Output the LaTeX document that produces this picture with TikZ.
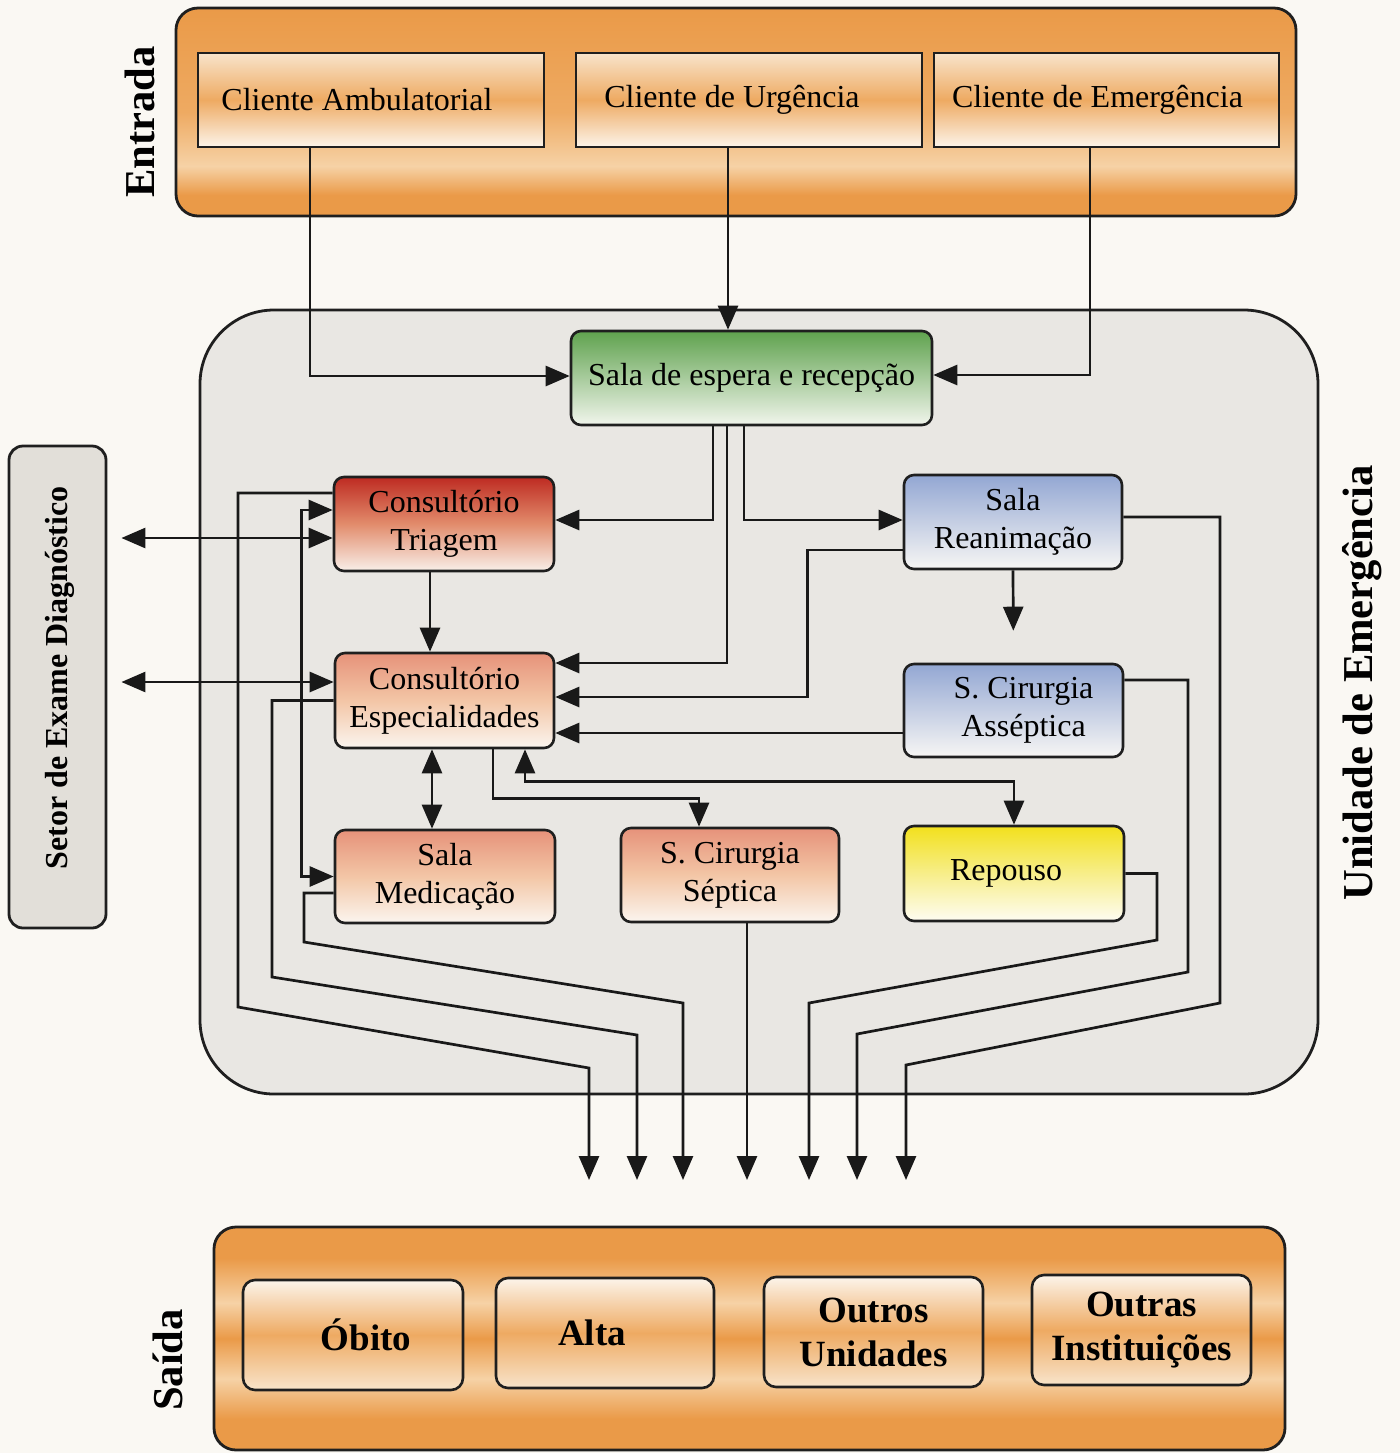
\documentclass[tikz,border=0pt]{standalone}
\usepackage{fontspec}
\setmainfont{Liberation Serif}
\usetikzlibrary{arrows.meta,calc}

% palette
\definecolor{paper}{HTML}{FAF8F3}
\definecolor{unitfill}{HTML}{E9E7E3}
\definecolor{setorfill}{HTML}{E2DFD9}
\definecolor{orDeep}{HTML}{EA9A48}
\definecolor{orMid}{HTML}{EEAA62}
\definecolor{orPale}{HTML}{F6D2A6}
\definecolor{cream}{HTML}{F8E4CB}
\definecolor{creamW}{HTML}{FCF4EA}
\definecolor{grnTop}{HTML}{5FA24E}
\definecolor{grnBot}{HTML}{F1F5EC}
\definecolor{redTop}{HTML}{BE2B22}
\definecolor{redMid}{HTML}{E28C6C}
\definecolor{redBot}{HTML}{F8EFE9}
\definecolor{salTop}{HTML}{E6927A}
\definecolor{salMid}{HTML}{F3C6A6}
\definecolor{salBot}{HTML}{FBF5EF}
\definecolor{bluTop}{HTML}{93A7D3}
\definecolor{bluBot}{HTML}{F7F6F4}
\definecolor{ylwTop}{HTML}{F2E01C}
\definecolor{ylwMid}{HTML}{F7EE8A}
\definecolor{ylwBot}{HTML}{FEFCF2}

% banded orange fills of the entry and exit frames (25bp = bottom, 75bp = top)
\pgfdeclareverticalshading{entradaband}{100bp}{%
  color(0bp)=(orDeep); color(25bp)=(orDeep); color(30bp)=(orDeep);
  color(37bp)=(orPale); color(50bp)=(orMid); color(75bp)=(orDeep); color(100bp)=(orDeep)}
\pgfdeclareverticalshading{saidaband}{100bp}{%
  color(0bp)=(orDeep); color(25bp)=(orDeep); color(32bp)=(orDeep);
  color(41bp)=(orPale); color(50bp)=(orDeep); color(58bp)=(orPale);
  color(68bp)=(orDeep); color(75bp)=(orDeep); color(100bp)=(orDeep)}

\newcommand\roomfont{\fontsize{16pt}{19pt}\selectfont}
\newcommand\exitfont{\fontsize{18.5pt}{22pt}\selectfont\bfseries}
\newcommand\sidefont{\fontsize{21.3pt}{24pt}\selectfont\bfseries}
\newcommand\setorfont{\fontsize{16pt}{19pt}\selectfont\bfseries}

\begin{document}
\begin{tikzpicture}[x=0.5pt, y=-0.5pt,
  hd/.tip={Triangle[length=12pt,width=10pt]},
  conn/.style={line width=1.35pt, draw=black!90},
  arr/.style={conn, -hd},
  both/.style={conn, hd-hd},
  frame/.style={draw=black!88, line width=1.4pt, inner sep=0pt},
  room/.style={draw=black!88, line width=1.3pt, rounded corners=5pt,
    align=center, inner sep=0pt, font=\roomfont, text=black},
  entry/.style={room, sharp corners, minimum width=173pt, minimum height=47pt,
    top color=cream, bottom color=creamW, middle color=orMid},
  exitbox/.style={room, rounded corners=6pt, font=\exitfont,
    minimum width=110pt, minimum height=55pt,
    top color=creamW, bottom color=cream, middle color=orMid},
  sidelabel/.style={font=\sidefont, rotate=90, inner sep=0pt},
  salmon/.style={top color=salTop, bottom color=salBot, middle color=salMid},
  bluish/.style={top color=bluTop, bottom color=bluBot},
]
\useasboundingbox (0,0) rectangle (1400,1453);
\fill[paper] (0,0) rectangle (1400,1453);

% ---------- frames ----------
\node[frame, rounded corners=11pt, shade, shading=entradaband,
      minimum width=560pt, minimum height=104pt] (entrada) at (736,112) {};
\node[frame, rounded corners=37pt, fill=unitfill,
      minimum width=559pt, minimum height=392pt] (unidade) at (759,702) {};
\node[frame, rounded corners=11pt, shade, shading=saidaband,
      minimum width=535.5pt, minimum height=111.5pt] (saida) at (749.5,1338.5) {};
\node[frame, rounded corners=7pt, fill=setorfill,
      minimum width=48.5pt, minimum height=241pt] (setor) at (57.5,687) {};

% ---------- side titles ----------
\node[sidelabel] (tEntrada) at (140,122) {Entrada};
\node[sidelabel] (tUnidade) at (1362,683) {Unidade de Emergência};
\node[sidelabel] (tSaida) at (168,1360) {Saída};
\node[font=\setorfont, rotate=90, inner sep=0pt] (tSetor) at (60,678) {Setor de Exame Diagnóstico};

% ---------- entry ----------
\node[entry] (amb) at (371,100) {Cliente Ambulatorial\hspace*{14pt}};
\node[entry] (urg) at (749,100) {Cliente de Urgência\hspace*{17pt}};
\node[entry, minimum width=172.5pt] (emg) at (1106.5,100) {Cliente de Emergência\hspace*{9pt}};

% ---------- emergency unit rooms ----------
\node[room, minimum width=180.5pt, minimum height=47pt,
      top color=grnTop, bottom color=grnBot] (sala) at (751.5,378) {\raisebox{2pt}{Sala de espera e recepção}};
\node[room, minimum width=110pt, minimum height=47pt,
      top color=redTop, bottom color=redBot, middle color=redMid] (tri) at (444,524) {Consultório\\Triagem};
\node[room, bluish, minimum width=109pt, minimum height=47pt] (rea) at (1013,522) {Sala\\Reanimação};
\node[room, salmon, minimum width=109.5pt, minimum height=47.5pt] (esp) at (444.5,700.5) {Consultório\\Especialidades};
\node[room, bluish, minimum width=109.5pt, minimum height=46.5pt] (asep) at (1013.5,710.5) {\hspace*{10pt}S. Cirurgia\\\hspace*{10pt}Asséptica};
\node[room, salmon, minimum width=110pt, minimum height=46.5pt] (med) at (445,876.5) {Sala\\Medicação};
\node[room, salmon, minimum width=109pt, minimum height=47pt] (sep) at (730,875) {S. Cirurgia\\Séptica};
\node[room, minimum width=110pt, minimum height=47.5pt,
      top color=ylwTop, bottom color=ylwBot, middle color=ylwMid] (rep) at (1014,873.5) {\raisebox{3.5pt}{Repouso}\hspace*{8pt}};

% ---------- exit ----------
\node[exitbox] (obito) at (353,1335) {\hspace*{13pt}\raisebox{-1.5pt}{Óbito}};
\node[exitbox, minimum width=109pt] (alta) at (605,1333) {\raisebox{-2.5pt}{Alta}\hspace*{13pt}};
\node[exitbox, minimum width=109.5pt] (outros) at (873.5,1332) {Outros\\Unidades};
\node[exitbox, minimum width=109.5pt] (outras) at (1141.5,1330) {Outras\\Instituições};

% ---------- reference points ----------
\coordinate (xa) at (310,0);
\coordinate (xu) at (728,0);
\coordinate (xe) at (1090,0);
\coordinate (x1) at (713,0);
\coordinate (x2) at (727,0);
\coordinate (x3) at (744,0);
\coordinate (sx1) at (120,538);
\coordinate (sx2) at (120,682);
\coordinate (o1) at (589,1180);
\coordinate (o2) at (637,1180);
\coordinate (o3) at (683,1180);
\coordinate (o4) at (747,1180);
\coordinate (o5) at (809,1180);
\coordinate (o6) at (857,1180);
\coordinate (o7) at (906,1180);

% ---------- arrivals ----------
\draw[arr] (amb.south -| xa) |- ([yshift=1pt]sala.west);
\draw[arr] (urg.south -| xu) -- (sala.north -| xu);
\draw[arr] (emg.south -| xe) |- ([yshift=1.5pt]sala.east);

% ---------- from reception ----------
\draw[arr] (sala.south -| x1) |- ([yshift=2pt]tri.east);
\draw[arr] (sala.south -| x2) |- ([yshift=18.75pt]esp.east);
\draw[arr] (sala.south -| x3) |- ([yshift=1pt]rea.west);

% ---------- between rooms ----------
\draw[arr] ([yshift=-14pt]rea.west) -- ++(-95,0) |- ([yshift=1.75pt]esp.east);
\draw[arr] ([yshift=-11.25pt]asep.west) -- ([yshift=-16.25pt]esp.east);
\draw[arr, shorten >=16pt] (rea.south) -- (asep.north);
\draw[arr] ([xshift=-7pt]tri.south) -- ([xshift=-7.25pt]esp.north);
\draw[both] ([xshift=-6.25pt]esp.south) -- ([xshift=-6.5pt]med.north);
\draw[arr] ([xshift=24.25pt]esp.south) -- ++(0,49) -| ([xshift=-15.5pt]sep.north);
\draw[both] ([xshift=40.25pt]esp.south) -- ++(0,32) -| (rep.north);
\draw[both] ([yshift=7pt]tri.west) -- ++(-31,0) |- (med.west);

% ---------- diagnostic sector ----------
\draw[both, shorten <=7pt] (setor.east |- sx1) -- (tri.west |- sx1);
\draw[both, shorten <=7pt] (setor.east |- sx2) -- (esp.west |- sx2);

% ---------- discharge routes ----------
\draw[arr] ([yshift=15.5pt]tri.west) -| (238,1007) -- (589,1068) -- (o1);
\draw[arr] (esp.west) -| (272,977) -- (637,1035) -- (o2);
\draw[arr] ([yshift=-8.25pt]med.west) -| (304,942) -- (683,1003) -- (o3);
\draw[arr] (sep.south -| o4) -- (o4);
\draw[arr] (rep.east) -| (1157,940) -- (809,1003) -- (o5);
\draw[arr] ([yshift=15.25pt]asep.east) -| (1188,972) -- (857,1034) -- (o6);
\draw[arr] ([yshift=2.5pt]rea.east) -| (1220,1003) -- (906,1065) -- (o7);
\end{tikzpicture}
\end{document}
